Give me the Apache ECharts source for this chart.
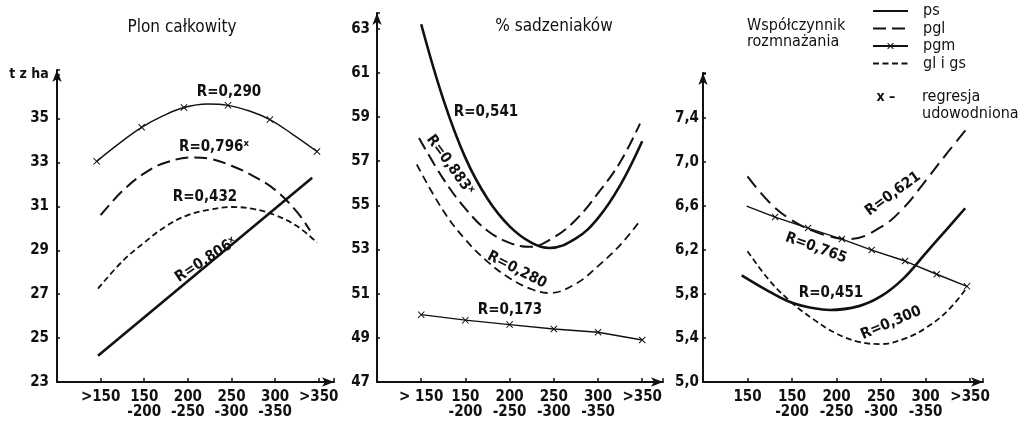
<!DOCTYPE html>
<html><head><meta charset="utf-8">
<script src="https://cdn.jsdelivr.net/npm/echarts@6/dist/echarts.min.js"></script>
<style>html,body{margin:0;padding:0;background:#fff}#c{width:1021px;height:422px}</style>
</head><body><div id="c"></div>
<script>
// ---- tick labels ----
const xLabels1 = ['>150', '150\n-200', '200\n-250', '250\n-300', '300\n-350', '>350'];
const xLabels2 = ['> 150', '150\n-200', '200\n-250', '250\n-300', '300\n-350', '>350'];
const xLabels3 = ['150', '150\n-200', '200\n-250', '250\n-300', '300\n-350', '>350'];
const seriesNames = ['ps', 'pgl', 'pgm', 'gl i gs'];

// ---- Panel 1: Plon całkowity (t z ha) ----
const p1_ps_x  = [-0.06, 4.85];
const p1_ps_y  = [24.2, 32.3];
const p1_pgl_x = [0, 0.5, 1, 1.5, 2.15, 2.5, 3, 3.5, 4, 4.5, 4.8];
const p1_pgl_y = [30.6, 31.7, 32.5, 33.0, 33.23, 33.17, 32.85, 32.38, 31.75, 30.75, 29.9];
const p1_pgm_x = [-0.09, 0.45, 0.94, 1.44, 1.91, 2.45, 2.92, 3.43, 3.88, 4.41, 4.96];
const p1_pgm_y = [33.05, 33.9, 34.6, 35.13, 35.5, 35.66, 35.6, 35.33, 34.95, 34.27, 33.5];
const p1_pgm_marks = [-0.09, 0.94, 1.91, 2.92, 3.88, 4.96];
const p1_gl_x  = [-0.06, 0.5, 1, 1.5, 2, 2.5, 3, 3.5, 4, 4.5, 4.96];
const p1_gl_y  = [27.25, 28.5, 29.35, 30.1, 30.6, 30.85, 30.97, 30.88, 30.6, 30.1, 29.35];

// ---- Panel 2: % sadzeniaków ----
const p2_ps_x  = [0, 0.5, 1, 1.5, 2, 2.5, 2.9, 3.5, 4, 4.5, 5];
const p2_ps_y  = [63.2, 59.8, 57.15, 55.3, 54.05, 53.3, 53.07, 53.5, 54.42, 55.9, 57.9];
const p2_pgl_x = [-0.05, 0.5, 1, 1.5, 2, 2.45, 3, 3.5, 4, 4.5, 4.95];
const p2_pgl_y = [58.05, 56.2, 54.85, 53.85, 53.3, 53.12, 53.55, 54.35, 55.55, 56.95, 58.7];
const p2_pgm_x = [0, 1, 2, 3, 4, 5];
const p2_pgm_y = [50.05, 49.8, 49.6, 49.4, 49.25, 48.9];
const p2_pgm_marks = [0, 1, 2, 3, 4, 5];
const p2_gl_x  = [-0.1, 0.5, 1, 1.5, 2, 2.5, 2.9, 3.5, 4, 4.5, 4.95];
const p2_gl_y  = [56.85, 54.75, 53.45, 52.45, 51.7, 51.2, 51.03, 51.45, 52.25, 53.2, 54.3];

// ---- Panel 3: Współczynnik rozmnażania ----
const p3_ps_x  = [-0.13, 0.5, 1, 1.5, 1.85, 2.5, 3, 3.5, 4, 4.5, 4.89];
const p3_ps_y  = [5.97, 5.82, 5.72, 5.67, 5.655, 5.69, 5.78, 5.94, 6.17, 6.4, 6.58];
const p3_pgl_x = [0, 0.5, 1, 1.5, 2, 2.3, 3, 3.5, 4, 4.5, 4.96];
const p3_pgl_y = [6.87, 6.63, 6.47, 6.37, 6.31, 6.30, 6.41, 6.58, 6.83, 7.09, 7.32];
const p3_pgm_x = [-0.02, 0.62, 1.36, 2.12, 2.79, 3.54, 4.25, 4.93];
const p3_pgm_y = [6.60, 6.50, 6.40, 6.30, 6.20, 6.10, 5.98, 5.87];
const p3_pgm_marks = [0.62, 1.36, 2.12, 2.79, 3.54, 4.25, 4.93];
const p3_gl_x  = [0, 0.5, 1, 1.5, 2, 2.5, 3, 3.5, 4, 4.5, 4.93];
const p3_gl_y  = [6.19, 5.92, 5.72, 5.565, 5.44, 5.365, 5.345, 5.39, 5.49, 5.65, 5.86];

// ---- R annotations ----
const rTexts = [
  'R=0,290', 'R=0,796ˣ', 'R=0,432', 'R=0,806ˣ',
  'R=0,541', 'R=0,883ˣ', 'R=0,280', 'R=0,173',
  'R=0,621', 'R=0,765', 'R=0,451', 'R=0,300'
];

const INK = '#111';
const FONT = '"DejaVu Sans Condensed", "DejaVu Sans", sans-serif';
const XSYM = 'path://M1,0L5,4L9,0L10,1L6,5L10,9L9,10L5,6L1,10L0,9L4,5L0,1Z';

function xAxisFor(idx, max, labels) {
  return {
    type: 'value', gridIndex: idx, min: -1, max: max, interval: 1,
    axisLine: { show: true, onZero: false, lineStyle: { color: INK, width: 2 }, symbol: ['none', 'arrow'], symbolSize: [7, 12] },
    axisTick: { show: true, inside: true, length: 4, lineStyle: { color: INK, width: 1.5 } },
    splitLine: { show: false },
    axisLabel: {
      color: INK, fontFamily: FONT, fontSize: 15, fontWeight: 'bold', lineHeight: 15, margin: 8,
      formatter: function (v) {
        const i = Math.round(v);
        return (Math.abs(v - i) < 1e-6 && i >= 0 && i < labels.length) ? labels[i] : '';
      }
    }
  };
}
function yAxisFor(idx, min, max, interval, labelMax, fmt, margin) {
  return {
    type: 'value', gridIndex: idx, min: min, max: max, interval: interval,
    axisLine: { show: true, onZero: false, lineStyle: { color: INK, width: 2 }, symbol: ['none', 'arrow'], symbolSize: [7, 12] },
    axisTick: { show: true, inside: true, length: 3, lineStyle: { color: INK, width: 1.5 } },
    splitLine: { show: false },
    axisLabel: {
      color: INK, fontFamily: FONT, fontSize: 15, fontWeight: 'bold', margin: margin,
      formatter: function (v) { return v <= labelMax + 1e-6 ? fmt(v) : ''; }
    }
  };
}

const styles = {
  'ps':      { color: INK, width: 2.6, type: 'solid' },
  'pgl':     { color: INK, width: 2, type: [13, 6] },
  'pgm':     { color: INK, width: 1.4, type: 'solid' },
  'gl i gs': { color: INK, width: 1.8, type: [6, 3.5] }
};

function mk(name, idx, xs, ys, opts) {
  opts = opts || {};
  const marks = opts.marks || [];
  const data = xs.map((x, i) => {
    const marked = marks.some(m => Math.abs(m - x) < 1e-9);
    return { value: [x, ys[i]], symbol: marked ? XSYM : 'none' };
  });
  return {
    name: name, type: 'line', xAxisIndex: idx, yAxisIndex: idx,
    data: data, smooth: opts.straight ? false : 0.4,
    symbol: marks.length ? XSYM : 'none', symbolSize: 7, showSymbol: marks.length > 0,
    lineStyle: Object.assign({}, styles[name], opts.dash ? { type: opts.dash } : {}),
    itemStyle: { color: INK, borderWidth: 0 },
    emphasis: { disabled: true }, animation: false, z: 3
  };
}

function txt(x, y, text, rotDeg, size, weight, align) {
  return {
    type: 'text', x: x, y: y, rotation: (rotDeg || 0) * Math.PI / 180, z: 10,
    style: {
      text: text, fill: INK, font: (weight || 'normal') + ' ' + (size || 15) + 'px ' + FONT,
      align: align || 'center', verticalAlign: 'middle'
    }
  };
}

const intFmt = v => String(Math.round(v));
const decFmt = v => v.toFixed(1).replace('.', ',');

const chart = echarts.init(document.getElementById('c'), null, { renderer: 'canvas' });
chart.setOption({
  backgroundColor: '#fff',
  animation: false,
  grid: [
    { left: 57, top: 70, width: 277, height: 312, containLabel: false },
    { left: 377, top: 13, width: 286, height: 369, containLabel: false },
    { left: 703, top: 73, width: 280, height: 309, containLabel: false }
  ],
  xAxis: [
    xAxisFor(0, 5.35, xLabels1),
    xAxisFor(1, 5.47, xLabels2),
    xAxisFor(2, 5.29, xLabels3)
  ],
  yAxis: [
    yAxisFor(0, 23, 37.21, 2, 35, intFmt, 8),
    yAxisFor(1, 47, 63.71, 2, 63, intFmt, 7),
    yAxisFor(2, 5.0, 7.81, 0.4, 7.4, decFmt, 4)
  ],
  legend: {
    orient: 'vertical', left: 872, top: 3, padding: 0,
    itemWidth: 35, itemHeight: 8, itemGap: 1.5,
    data: [
      { name: seriesNames[0], itemStyle: { opacity: 0 } },
      { name: seriesNames[1], itemStyle: { opacity: 0 } },
      { name: seriesNames[2] },
      { name: seriesNames[3], itemStyle: { opacity: 0 } }
    ],
    selectedMode: false,
    textStyle: { color: INK, fontFamily: FONT, fontSize: 16, lineHeight: 14, padding: [0, 0, 0, 10] }
  },
  series: [
    mk('ps', 0, p1_ps_x, p1_ps_y, { straight: true }),
    mk('pgl', 0, p1_pgl_x, p1_pgl_y),
    mk('pgm', 0, p1_pgm_x, p1_pgm_y, { marks: p1_pgm_marks }),
    mk('gl i gs', 0, p1_gl_x, p1_gl_y),
    mk('ps', 1, p2_ps_x, p2_ps_y),
    mk('pgl', 1, p2_pgl_x, p2_pgl_y),
    mk('pgm', 1, p2_pgm_x, p2_pgm_y, { marks: p2_pgm_marks, straight: true }),
    mk('gl i gs', 1, p2_gl_x, p2_gl_y, { dash: [8, 5] }),
    mk('ps', 2, p3_ps_x, p3_ps_y),
    mk('pgl', 2, p3_pgl_x, p3_pgl_y, { dash: [14, 7] }),
    mk('pgm', 2, p3_pgm_x, p3_pgm_y, { marks: p3_pgm_marks, straight: true }),
    mk('gl i gs', 2, p3_gl_x, p3_gl_y)
  ],
  graphic: [
    txt(182, 28, 'Plon całkowity', 0, 17),
    txt(554, 27, '% sadzeniaków', 0, 17),
    txt(747, 26, 'Współczynnik', 0, 16, 'normal', 'left'),
    txt(747, 42, 'rozmnażania', 0, 16, 'normal', 'left'),
    txt(29, 74, 't z ha', 0, 14, 'bold'),
    txt(886, 97, 'x –', 0, 14, 'bold'),
    txt(922, 97, 'regresja', 0, 16, 'normal', 'left'),
    txt(922, 114, 'udowodniona', 0, 16, 'normal', 'left'),
    txt(229, 92, rTexts[0], 0, 15, 'bold'),
    txt(214, 147, rTexts[1], 0, 15, 'bold'),
    txt(205, 197, rTexts[2], 0, 15, 'bold'),
    txt(206, 260, rTexts[3], 33, 15, 'bold'),
    txt(486, 112, rTexts[4], 0, 15, 'bold'),
    txt(450, 165, rTexts[5], -54, 15, 'bold'),
    txt(517, 270, rTexts[6], -27, 15, 'bold'),
    txt(510, 310, rTexts[7], 0, 15, 'bold'),
    txt(893, 194, rTexts[8], 36, 15, 'bold'),
    txt(816, 248, rTexts[9], -20, 15, 'bold'),
    txt(831, 293, rTexts[10], 0, 15, 'bold'),
    txt(891, 323, rTexts[11], 23, 15, 'bold')
  ]
});
</script>
</body></html>
